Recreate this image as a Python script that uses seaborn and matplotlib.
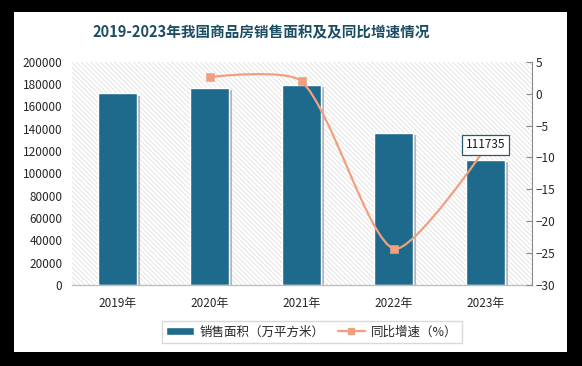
import numpy as np
import pandas as pd
import matplotlib
matplotlib.use('Agg')
import matplotlib.pyplot as plt
import seaborn as sns
from matplotlib.patches import Rectangle, PathPatch
from matplotlib.path import Path
from matplotlib.lines import Line2D
import matplotlib.patheffects as pe

# data
years = ['2019年', '2020年', '2021年', '2022年', '2023年']
area = [171558, 176086, 179433, 135837, 111735]      # 万平方米
growth = [np.nan, 2.6, 1.9, -24.3, -8.5]            # %

bar_color = '#1d6a8c'
line_color = '#f0a07e'
title_color = '#1b4d63'
text_color = '#262626'

sns.set_style('white')
plt.rcParams['font.family'] = ['Noto Sans CJK SC', 'DejaVu Sans']
plt.rcParams['hatch.linewidth'] = 0.6

fig = plt.figure(figsize=(5.82, 3.66), dpi=100)
fig.patch.set_facecolor('black')
# white card
fig.patches.append(Rectangle((14 / 582, 14 / 366), 553 / 582, 340 / 366,
                             transform=fig.transFigure, facecolor='white',
                             edgecolor='none', zorder=-10))

ax = fig.add_axes([72 / 582, 81 / 366, 459.5 / 582, 223.3 / 366])
ax.set_facecolor('none')
ax.add_patch(Rectangle((0, 0), 1, 1, transform=ax.transAxes, facecolor='white',
                       edgecolor='#e0e0e0', hatch='\\' * 7, lw=0, zorder=0))

df = pd.DataFrame({'year': years, 'area': area})
sns.barplot(data=df, x='year', y='area', color=bar_color, width=0.425,
            edgecolor='white', linewidth=1, saturation=1, ax=ax, zorder=2)
for p in ax.patches[1:]:
    p.set_path_effects([pe.SimplePatchShadow(offset=(1.8, -1.5), shadow_rgbFace='#8c8c8c', alpha=0.6),
                        pe.Normal()])

ax.set_ylim(0, 200000)
ax.set_yticks(range(0, 200001, 20000))
ax.set_xlim(-0.5, 4.5)
ax.set_xlabel('')
ax.set_ylabel('')
for s in ['left', 'top', 'right']:
    ax.spines[s].set_visible(False)
ax.spines['bottom'].set_color('#bfbfbf')
ax.spines['bottom'].set_linewidth(1)
ax.tick_params(axis='y', length=0, labelsize=8.5, labelcolor=text_color, pad=7)
ax.tick_params(axis='x', length=0, labelsize=8.5, labelcolor=text_color, pad=9)

# growth rate on right axis
ax2 = ax.twinx()
ax2.patch.set_visible(False)
ax2.set_ylim(-30, 5)
ax2.set_yticks(range(-30, 6, 5))
for s in ['left', 'top', 'bottom']:
    ax2.spines[s].set_visible(False)
ax2.spines['right'].set_color('#8a8a8a')
ax2.tick_params(axis='y', direction='in', length=4, color='#8a8a8a',
                labelsize=8.5, labelcolor=text_color, pad=3)

# smoothed line (excel-like), control points derived from the data
gx = [i for i, g in enumerate(growth) if not np.isnan(g)]
gy = [g for g in growth if not np.isnan(g)]
pts = ax2.transData.transform(np.column_stack([gx, gy]))
n = len(pts)
k = 0.24
verts = [pts[0]]
codes = [Path.MOVETO]
for i in range(n - 1):
    p0 = pts[i - 1] if i > 0 else pts[i]
    p1, p2 = pts[i], pts[i + 1]
    p3 = pts[i + 2] if i + 2 < n else pts[i + 1]
    d01 = np.linalg.norm(p1 - p0)
    d12 = np.linalg.norm(p2 - p1)
    d23 = np.linalg.norm(p3 - p2)
    c1 = p1 + (p2 - p0) * (d12 / (d01 + d12) * k if i > 0 else 0)
    c2 = p2 - (p3 - p1) * (d12 / (d12 + d23) * k if i + 2 < n else 0)
    verts += [c1, c2, p2]
    codes += [Path.CURVE4] * 3
verts = ax2.transData.inverted().transform(np.array(verts))
ax2.add_patch(PathPatch(Path(verts, codes), facecolor='none', edgecolor=line_color,
                        lw=1.6, zorder=3))
sns.scatterplot(x=gx, y=gy, marker='s', s=30, color=line_color, edgecolor=line_color,
                ax=ax2, zorder=4, legend=False)

# data label for 2023
ax2.annotate(f'{area[-1]}', xy=(4, area[-1]), xycoords=ax.transData,
             xytext=(0, 11), textcoords='offset points', ha='center', va='center',
             fontsize=8.5, color='#1a1a1a', zorder=6,
             bbox=dict(boxstyle='square,pad=0.3', facecolor='white',
                       edgecolor='#2a5a6e', lw=0.9))

fig.text(261 / 582, 1 - 32 / 366, '2019-2023年我国商品房销售面积及及同比增速情况',
         ha='center', va='center', fontsize=10.5, fontweight='bold', color=title_color)

handles = [Rectangle((0, 0), 1, 1, facecolor=bar_color, edgecolor='white'),
           Line2D([0], [0], color=line_color, lw=1.6, marker='s', markersize=5)]
fig.legend(handles, ['销售面积（万平方米）', '同比增速（%）'], loc='center',
           bbox_to_anchor=(312 / 582, 1 - 332 / 366), ncol=2, frameon=True,
           fancybox=False, edgecolor='#d0d0d0', fontsize=9, handlelength=2.2,
           handleheight=0.6, columnspacing=1.0, handletextpad=0.5,
           borderpad=0.35, labelcolor=text_color)

fig.savefig('out.png', dpi=100, facecolor=fig.get_facecolor())
